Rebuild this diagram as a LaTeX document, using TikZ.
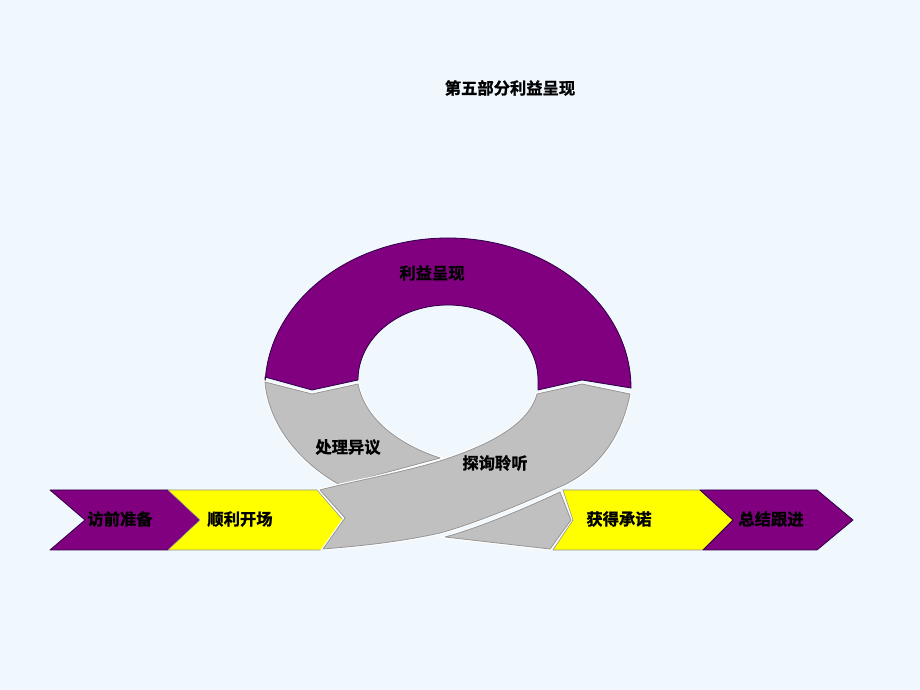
\documentclass[tikz,border=0pt]{standalone}
\usepackage{fontspec}
\newfontfamily\cjk{Noto Sans CJK SC}[BoldFont = {Noto Sans CJK SC Bold}, BoldFeatures = {FakeBold = 1.2}]
\definecolor{pagebg}{RGB}{240,247,253}
\definecolor{ringpurple}{RGB}{128,0,128}
\definecolor{ringedge}{RGB}{45,0,70}
\definecolor{bandgray}{RGB}{192,192,192}
\definecolor{bandedge}{RGB}{150,150,150}
\definecolor{stepyellow}{RGB}{255,255,0}
\begin{document}
\begin{tikzpicture}[x = 1pt, y = 1pt,
  purplepart/.style = {fill = ringpurple, draw = ringedge, line width = 0.8, line join = round},
  graypart/.style = {fill = bandgray, draw = bandedge, line width = 0.8, line join = round, preaction = {draw = white, line width = 3}},
  yellowpart/.style = {fill = stepyellow, draw = bandedge, line width = 0.6, line join = round},
  steptext/.style = {font = \cjk\bfseries\fontsize{16.3}{19}\selectfont, text = black, inner sep = 0}]
\fill [pagebg] (0, 0) rectangle (920, 690);

\node [steptext] (title) at (510, 602) {第五部分利益呈现};

\draw [purplepart] (265, 313) -- (312, 300) -- (358, 310) arc [start angle = 180, end angle = 0, x radius = 90, y radius = 75] -- (538, 300) -- (582, 310) -- (631, 302) arc [start angle = 0, end angle = 180, x radius = 183, y radius = 150] -- cycle;
\node [steptext] (benefit) at (432, 417) {利益呈现};

\draw [graypart] (265, 308) -- (312, 296) -- (358, 306) .. controls (365, 270) and (400, 245) .. (440, 232) -- (340, 205) .. controls (295, 230) and (268, 270) .. (265, 308) -- cycle;
\node [steptext] (objection) at (348, 243) {处理异议};

\draw [purplepart] (50, 200) -- (168, 200) -- (200, 170) -- (168, 140) -- (50, 140) -- (85, 170) -- cycle;
\node [steptext] (prepare) at (120, 171) {访前准备};

\draw [yellowpart] (168, 200) -- (317, 200) -- (343, 170) -- (323, 140) -- (168, 140) -- (200, 170) -- cycle;
\node [steptext] (opening) at (240, 171) {顺利开场};

\draw [graypart] (445, 153) .. controls (475, 161) and (522, 180) .. (560, 198) -- (571, 170) -- (550, 141) -- cycle;

\draw [graypart] (537, 296) -- (582, 306) -- (630, 296) .. controls (620, 245) and (590, 215) .. (557, 202) .. controls (520, 185) and (470, 165) .. (440, 157) .. controls (400, 148) and (360, 144) .. (323, 141) -- (345, 172) -- (320, 200) .. controls (350, 208) and (400, 217) .. (440, 229) .. controls (480, 242) and (528, 262) .. (537, 296) -- cycle;
\node [steptext] (listen) at (495, 227) {探询聆听};

\draw [yellowpart] (563, 200) -- (700, 200) -- (733, 170) -- (703, 140) -- (553, 140) -- (573, 170) -- cycle;
\node [steptext] (commit) at (619, 171) {获得承诺};

\draw [purplepart] (700, 200) -- (817, 200) -- (853, 170) -- (817, 140) -- (703, 140) -- (733, 170) -- cycle;
\node [steptext] (followup) at (771, 171) {总结跟进};
\end{tikzpicture}
\end{document}
